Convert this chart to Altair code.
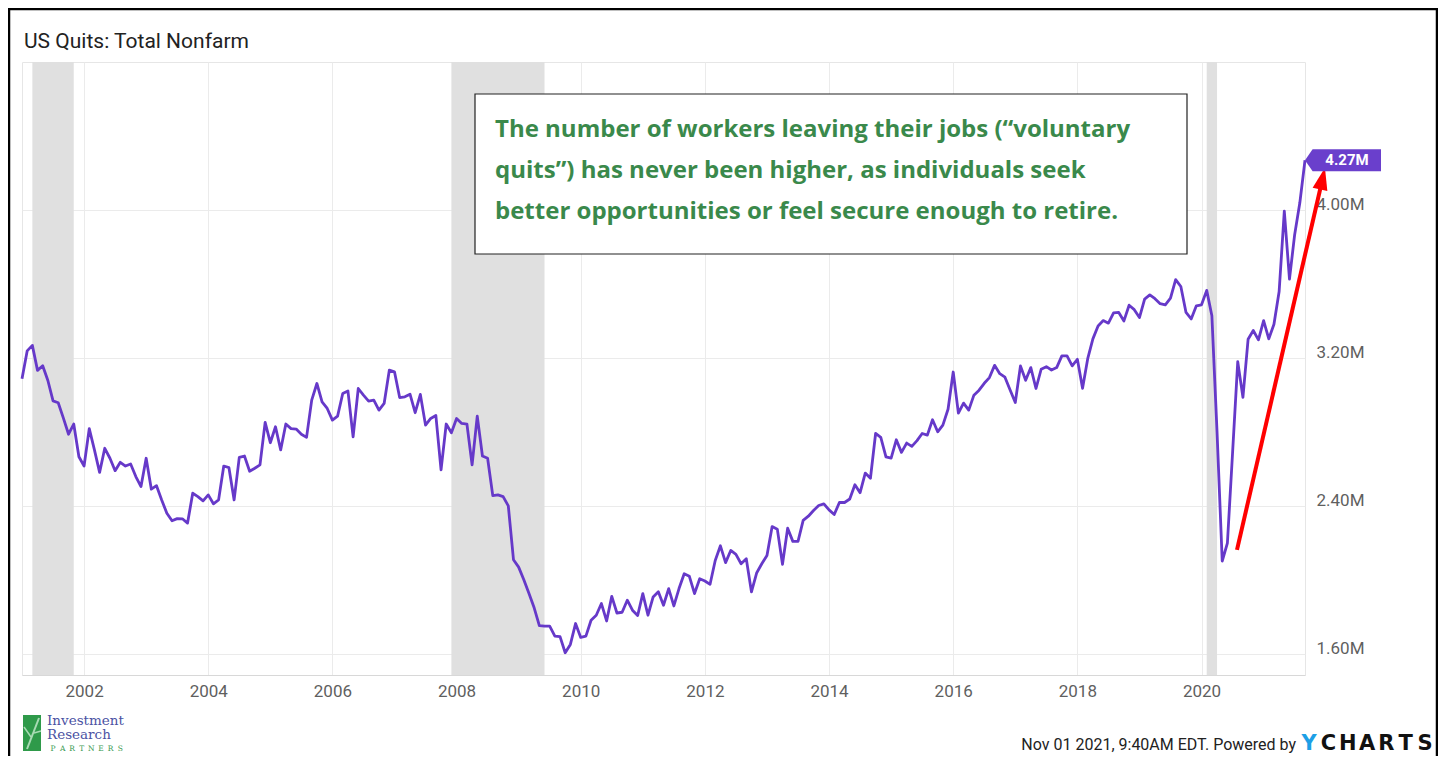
import altair as alt
import pandas as pd

# ---------------- data ----------------
START_YEAR = 2001  # first plotted month: Jan 2001 position
quits_m = [
    3.09, 3.24, 3.27, 3.135, 3.16, 3.08, 2.97, 2.96, 2.877, 2.79, 2.845, 2.668,
    2.618, 2.82, 2.705, 2.584, 2.714, 2.66, 2.593, 2.638, 2.618, 2.629, 2.561, 2.507,
    2.66, 2.493, 2.512, 2.435, 2.363, 2.322, 2.334, 2.333, 2.31, 2.471, 2.453, 2.43,
    2.462, 2.414, 2.435, 2.618, 2.609, 2.435, 2.665, 2.672, 2.59, 2.606, 2.624, 2.854,
    2.744, 2.83, 2.705, 2.845, 2.82, 2.818, 2.79, 2.773, 2.974, 3.064, 2.965, 2.929,
    2.866, 2.888, 3.01, 3.024, 2.776, 3.037, 3.001, 2.969, 2.974, 2.92, 2.956, 3.136,
    3.127, 2.988, 2.992, 3.006, 2.906, 3.005, 2.839, 2.875, 2.891, 2.597, 2.845, 2.798,
    2.875, 2.848, 2.845, 2.624, 2.888, 2.672, 2.66, 2.458, 2.462, 2.453, 2.403, 2.112,
    2.072, 2.004, 1.929, 1.852, 1.756, 1.753, 1.753, 1.699, 1.696, 1.609, 1.654, 1.767,
    1.692, 1.699, 1.785, 1.812, 1.875, 1.781, 1.914, 1.824, 1.828, 1.893, 1.839, 1.81,
    1.929, 1.812, 1.911, 1.939, 1.866, 1.956, 1.862, 1.956, 2.036, 2.022, 1.929, 2.009,
    1.997, 1.979, 2.108, 2.187, 2.096, 2.162, 2.141, 2.09, 2.117, 1.938, 2.04, 2.09,
    2.135, 2.291, 2.277, 2.087, 2.282, 2.211, 2.211, 2.324, 2.347, 2.378, 2.405, 2.414,
    2.381, 2.356, 2.421, 2.421, 2.44, 2.517, 2.474, 2.58, 2.552, 2.794, 2.773, 2.668,
    2.661, 2.76, 2.692, 2.742, 2.724, 2.755, 2.794, 2.785, 2.868, 2.803, 2.839, 2.925,
    3.126, 2.904, 2.958, 2.92, 3.001, 3.028, 3.065, 3.096, 3.162, 3.117, 3.098, 3.029,
    2.961, 3.159, 3.081, 3.15, 3.037, 3.141, 3.155, 3.137, 3.15, 3.213, 3.213, 3.159,
    3.195, 3.038, 3.198, 3.305, 3.375, 3.404, 3.39, 3.445, 3.448, 3.402, 3.487, 3.463,
    3.42, 3.52, 3.543, 3.522, 3.495, 3.489, 3.525, 3.625, 3.588, 3.448, 3.413, 3.484,
    3.489, 3.567, 3.43, 2.80, 2.105, 2.202, 2.69, 3.182, 2.989, 3.303, 3.35, 3.3,
    3.404, 3.305, 3.384, 3.561, 3.995, 3.628, 3.868, 4.04, 4.27,
]
year_ticks = list(range(2002, 2021, 2))
value_ticks = [1.6, 2.4, 3.2, 4.0]
recession_start = [(2001, 3), (2007, 12), (2020, 2)]
recession_end = [(2001, 11), (2009, 6), (2020, 4)]
# arrow annotation (decimal year, millions)
arrow_from = (2020.571, 2.165)
arrow_to = (2021.923, 4.131)
arrow_tip = (2021.988, 4.229)

title_text = "US Quits: Total Nonfarm"
note_lines = [
    "The number of workers leaving their jobs (\u201cvoluntary",
    "quits\u201d) has never been higher, as individuals seek",
    "better opportunities or feel secure enough to retire.",
]
footer_text = "Nov 01 2021, 9:40AM EDT. Powered by"
brand_letters = "CHARTS"
logo_words = ["Investment", "Research"]
logo_small = "PARTNERS"

# ---------------- tables ----------------
t_vals = [START_YEAR + i / 12 for i in range(len(quits_m))]
df = pd.DataFrame({"t": t_vals, "v": quits_m})
rec_df = pd.DataFrame({
    "s": [y + (m - 1) / 12 for y, m in recession_start],
    "e": [y + (m - 1) / 12 for y, m in recession_end],
})
last_df = pd.DataFrame({"t": [t_vals[-1]], "v": [quits_m[-1]],
                        "label": [f"{quits_m[-1]:.2f}M"]})
arrow_df = pd.DataFrame({"x0": [arrow_from[0]], "y0": [arrow_from[1]],
                         "x1": [arrow_to[0]], "y1": [arrow_to[1]]})
tip_df = pd.DataFrame({"x": [arrow_tip[0]], "y": [arrow_tip[1]]})

PURPLE = "#6639c9"
GRID = "#ebebeb"
LABEL = "#5f5f5f"

xs = alt.Scale(domain=[START_YEAR, t_vals[-1]], nice=False, zero=False)
ys = alt.Scale(domain=[1.489, 4.801], nice=False, zero=False)
xaxis = alt.Axis(values=year_ticks, format="d", grid=True, gridColor=GRID,
                 ticks=False, domain=True, domainColor="#d8d8d8",
                 labelFont="Roboto", labelFontSize=17, labelColor=LABEL,
                 labelPadding=8, title=None)
yaxis = alt.Axis(values=value_ticks, orient="right", grid=True, gridColor=GRID,
                 ticks=False, domain=False, labelFont="Roboto", labelFontSize=17,
                 labelColor=LABEL, labelPadding=11, labelOffset=-6,
                 labelExpr="format(datum.value, '.2f') + 'M'", title=None)


def X(f):
    return alt.X(f"{f}:Q", scale=xs, axis=xaxis, title=None)


def Y(f):
    return alt.Y(f"{f}:Q", scale=ys, axis=yaxis, title=None)


one = pd.DataFrame({"k": [0]})

bands = alt.Chart(rec_df).mark_rect(color="#e0e0e0").encode(x=X("s"), x2="e:Q")
line = alt.Chart(df).mark_line(color=PURPLE, strokeWidth=2.8,
                               strokeJoin="round").encode(x=X("t"), y=Y("v"))

box = alt.Chart(one).mark_rect(fill="white", stroke="#222222", strokeWidth=1.2).encode(
    x=alt.value(453), x2=alt.value(1165), y=alt.value(32), y2=alt.value(192))
notes = [
    alt.Chart(one).mark_text(text=ln, align="left", baseline="middle", font="Open Sans",
                             fontWeight="bold", fontSize=24, color="#3a894b").encode(
        x=alt.value(473), y=alt.value(68 + 41 * i))
    for i, ln in enumerate(note_lines)
]

badge = alt.Chart(last_df).mark_point(
    shape="M0,0 L0.2,-0.29 L2,-0.29 L2,0.29 L0.2,0.29 Z", size=5776,
    filled=True, color="#6a3fcc", opacity=1, strokeWidth=0).encode(x=X("t"), y=Y("v"))
badge_txt = alt.Chart(last_df).mark_text(
    align="center", baseline="middle", dx=42, font="Roboto", fontWeight="bold",
    fontSize=15, color="white").encode(x=X("t"), y=Y("v"), text="label:N")

arrow = alt.Chart(arrow_df).mark_rule(color="#ff0000", strokeWidth=4).encode(
    x=X("x0"), y=Y("y0"), x2="x1:Q", y2="y1:Q")
head = alt.Chart(tip_df).mark_point(
    shape="M0,0 L0.65,1.9 L-0.65,1.9 Z", size=538, angle=13, filled=True,
    color="#ff0000", opacity=1, strokeWidth=0).encode(x=X("x"), y=Y("y"))

title = alt.Chart(one).mark_text(text=title_text, align="left", baseline="alphabetic",
                                 font="Roboto", fontSize=21, color="#222222").encode(
    x=alt.value(2), y=alt.value(-14))

frame = alt.Chart(one).mark_rect(fillOpacity=0, stroke="black", strokeWidth=2.5).encode(
    x=alt.value(-13), x2=alt.value(1415), y=alt.value(-53), y2=alt.value(720))

# footer (right)
FOOT_Y = 688
foot = alt.Chart(one).mark_text(text=footer_text, align="right", baseline="alphabetic",
                                font="Roboto", fontSize=16, color="#222222").encode(
    x=alt.value(1274), y=alt.value(FOOT_Y))
ylogo = alt.Chart(one).mark_text(text="Y", align="center", baseline="alphabetic",
                                 font="DejaVu Sans", fontWeight="bold", fontSize=21,
                                 color="#1d9fe6").encode(x=alt.value(1287), y=alt.value(FOOT_Y))
brand = [
    alt.Chart(one).mark_text(text=ch, align="center", baseline="alphabetic",
                             font="DejaVu Sans", fontWeight="bold", fontSize=21,
                             color="#111111").encode(
        x=alt.value(1306.5 + 19.3 * i), y=alt.value(FOOT_Y))
    for i, ch in enumerate(brand_letters)
]

# footer (left logo)
icon = alt.Chart(one).mark_rect(color="#2f9a4a").encode(
    x=alt.value(1), x2=alt.value(19), y=alt.value(653), y2=alt.value(689))
vein1 = alt.Chart(one).mark_rule(color="#a9dbb4", strokeWidth=2).encode(
    x=alt.value(5), x2=alt.value(17), y=alt.value(687), y2=alt.value(656))
vein2 = alt.Chart(one).mark_rule(color="#a9dbb4", strokeWidth=1.5).encode(
    x=alt.value(9), x2=alt.value(2), y=alt.value(675), y2=alt.value(665))
vein3 = alt.Chart(one).mark_rule(color="#a9dbb4", strokeWidth=1.5).encode(
    x=alt.value(12), x2=alt.value(19), y=alt.value(671), y2=alt.value(669))
words = [
    alt.Chart(one).mark_text(text=w, align="left", baseline="alphabetic",
                             font="DejaVu Serif", fontSize=13.5, color="#4b52a3").encode(
        x=alt.value(25), y=alt.value(663 + 14 * i))
    for i, w in enumerate(logo_words)
]
small = [
    alt.Chart(one).mark_text(text=ch, align="center", baseline="alphabetic",
                             font="DejaVu Serif", fontSize=7.5, color="#3a9a52").encode(
        x=alt.value(31 + 9.6 * i), y=alt.value(689))
    for i, ch in enumerate(logo_small)
]

chart = alt.layer(
    bands, line, box, *notes, arrow, head, badge, badge_txt, title, frame,
    foot, ylogo, *brand, icon, vein1, vein2, vein3, *words, *small,
).properties(
    width=1283, height=613,
    padding={"left": 14, "top": 54, "right": 133, "bottom": 81},
    autosize=alt.AutoSizeParams(type="none"),
    background="white",
).configure_view(stroke="#e6e6e6")

chart.save("out.html", embed_options={"renderer": "svg", "actions": False})
